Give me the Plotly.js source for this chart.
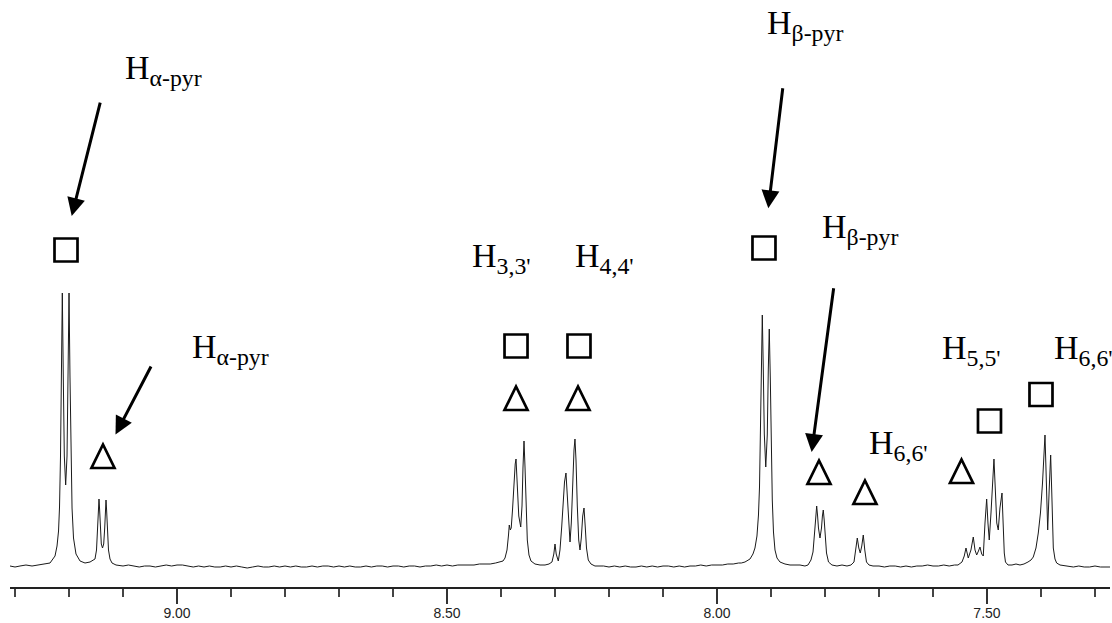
<!DOCTYPE html>
<html>
<head>
<meta charset="utf-8">
<script src="https://cdn.plot.ly/plotly-3.0.1.min.js"></script>
<style>html,body{margin:0;padding:0;background:#fff;}#chart{width:1112px;height:623px;}</style>
</head>
<body>
<div id="chart"></div>
<script>
// ---- Spectrum data (chemical shift in ppm, intensity in arbitrary units) ----
// H-alpha pyrrole region
const alphaPpm = [9.3093,9.3000,9.2908,9.2797,9.2685,9.2574,9.2463,9.2352,9.2259,9.2222,9.2194,9.2176,9.2158,9.2143,9.2124,9.2106,9.2087,9.2062,9.2037,9.2019,9.2000,9.1982,9.1963,9.1944,9.1917,9.1871,9.1796,9.1704,9.1611,9.1519,9.1491,9.1469,9.1456,9.1445,9.1434,9.1421,9.1402,9.1380,9.1358,9.1339,9.1326,9.1315,9.1304,9.1291,9.1269,9.1241,9.1204,9.1130];
const alphaInt = [2,1,2,3,2,3,4,5,12,22,37,61,111,191,275,190,112,83,112,190,275,191,105,60,30,14,7,5,6,9,18,38,58,69,59,40,24,20,24,40,58,68,58,38,18,9,5,3];
// baseline 9.10 - 8.41
const base1Ppm = [9.10,9.09,9.08,9.07,9.06,9.05,9.04,9.03,9.02,9.01,9.00,8.99,8.98,8.97,8.96,8.95,8.94,8.93,8.92,8.91,8.90,8.89,8.88,8.87,8.86,8.85,8.84,8.83,8.82,8.81,8.80,8.79,8.78,8.77,8.76,8.75,8.74,8.73,8.72,8.71,8.70,8.69,8.68,8.67,8.66,8.65,8.64,8.63,8.62,8.61,8.60,8.59,8.58,8.57,8.56,8.55,8.54,8.53,8.52,8.51,8.50,8.49,8.48,8.47,8.46,8.45,8.44,8.43,8.42,8.41];
const base1Int = [2,3,2,1,2,2,1,2,3,2,3,3,2,1,2,1,2,1,1,2,1,2,1,0,1,2,1,1,2,1,2,1,2,1,1,2,1,2,2,1,2,1,2,1,1,2,1,2,2,1,2,2,1,2,2,1,2,2,3,2,3,2,3,3,3,3,4,4,4,5];
// H3,3' and H4,4'
const h34Ppm = [8.3963,8.3926,8.3889,8.3861,8.3847,8.3828,8.3811,8.3787,8.3760,8.3737,8.3722,8.3698,8.3671,8.3635,8.3611,8.3593,8.3574,8.3556,8.3537,8.3513,8.3482,8.3445,8.3371,8.3278,8.3185,8.3111,8.3056,8.3022,8.3000,8.2978,8.2939,8.2908,8.2876,8.2852,8.2824,8.2797,8.2772,8.2748,8.2722,8.2698,8.2671,8.2648,8.2630,8.2611,8.2587,8.2561,8.2537,8.2513,8.2487,8.2463,8.2441,8.2417,8.2384,8.2334,8.2260];
const h34Int = [7,10,18,33,43,38,40,58,85,104,109,85,52,41,62,100,127,102,58,28,13,7,4,3,3,4,6,14,24,14,7,18,41,62,86,95,72,40,26,45,90,118,129,108,62,28,18,30,52,60,42,20,8,4,2];
// baseline 8.22 - 7.955
const base2Ppm = [8.22,8.21,8.20,8.19,8.18,8.17,8.16,8.15,8.14,8.13,8.12,8.11,8.10,8.09,8.08,8.07,8.06,8.05,8.04,8.03,8.02,8.01,8.00,7.99,7.98,7.97,7.96,7.955];
const base2Int = [2,2,1,2,1,2,1,1,2,1,2,1,2,2,1,2,1,2,2,3,2,3,3,3,4,4,5,5];
// H-beta pyrrole region
const betaPpm = [7.9482,7.9389,7.9334,7.9297,7.9260,7.9232,7.9213,7.9195,7.9180,7.9161,7.9143,7.9124,7.9097,7.9069,7.9050,7.9032,7.9013,7.8995,7.8976,7.8954,7.8926,7.8889,7.8834,7.8741,7.8648,7.8556,7.8463,7.8371,7.8315,7.8260,7.8222,7.8189,7.8171,7.8154,7.8137,7.8121,7.8093,7.8065,7.8048,7.8032,7.8015,7.8000,7.7972,7.7935,7.7871,7.7778,7.7685,7.7593,7.7519,7.7463,7.7430,7.7402,7.7374,7.7347,7.7319,7.7291,7.7263,7.7232,7.7185,7.7111];
const betaInt = [6,9,14,20,32,53,81,133,200,253,200,134,101,133,199,239,190,115,68,36,18,10,6,4,3,3,3,2,3,8,16,38,54,62,52,40,30,40,52,58,48,35,15,6,3,2,3,2,3,6,17,30,20,15,22,33,18,6,3,2];
// baseline 7.70 - 7.56
const base3Ppm = [7.70,7.69,7.68,7.67,7.66,7.65,7.64,7.63,7.62,7.61,7.60,7.59,7.58,7.57,7.56];
const base3Int = [2,1,2,2,1,2,1,2,2,3,2,2,3,2,3];
// H5,5' and H6,6'
const h56Ppm = [7.5537,7.5463,7.5421,7.5389,7.5347,7.5297,7.5254,7.5222,7.5191,7.5158,7.5130,7.5098,7.5069,7.5037,7.5006,7.4982,7.4958,7.4926,7.4895,7.4871,7.4843,7.4819,7.4791,7.4760,7.4722,7.4700,7.4680,7.4658,7.4611,7.4537,7.4463,7.4389,7.4315,7.4241,7.4185,7.4143,7.4093,7.4050,7.4010,7.3972,7.3945,7.3926,7.3908,7.3876,7.3847,7.3821,7.3800,7.3772,7.3741,7.3710,7.3648,7.3556];
const h56Int = [3,6,12,20,10,18,31,18,13,17,21,14,12,45,69,45,28,55,95,109,75,45,38,60,75,40,15,6,3,3,4,3,4,6,8,11,20,35,55,85,118,133,100,38,80,113,75,20,9,5,3,2];
// baseline 7.35 - 7.272
const base4Ppm = [7.35,7.34,7.33,7.32,7.31,7.30,7.29,7.28,7.272];
const base4Int = [2,1,2,1,1,2,1,1,1];

// axis ticks
const majorTickVals = [9.0, 8.5, 8.0, 7.5];
const majorTickText = ['9.00', '8.50', '8.00', '7.50'];

// assignment labels, symbols and arrows (annotation positions in ppm / intensity)
const labelText = ['H<sub>α-pyr</sub>','H<sub>α-pyr</sub>','H<sub>3,3\'</sub>','H<sub>4,4\'</sub>','H<sub>β-pyr</sub>','H<sub>β-pyr</sub>','H<sub>6,6\'</sub>','H<sub>5,5\'</sub>','H<sub>6,6\'</sub>'];
const labelPpm  = [9.1000, 8.9759, 8.4574, 8.2667, 7.9111, 7.8093, 7.7222, 7.5871, 7.3796];
const labelInt  = [498, 219, 310, 310, 543, 339, 123, 218, 218];

const squarePpm = [9.2056, 8.3722, 8.2556, 7.9130, 7.4954, 7.4000];
const squareInt = [318, 222, 222, 320, 147, 173.5];
const trianglePpm = [9.1371, 8.3722, 8.2574, 7.8111, 7.7260, 7.5472];
const triangleInt = [111, 169, 169, 95, 75, 96];

const arrowTailPpm = [9.1376, 9.0426, 7.8760, 7.7815];
const arrowTailInt = [475.3, 207.3, 489.7, 289.7];
const arrowHeadPpm = [9.1950, 9.1139, 7.9050, 7.8247];
const arrowHeadInt = [352, 133.5, 359.7, 116];

const ppm = [].concat(alphaPpm, base1Ppm, h34Ppm, base2Ppm, betaPpm, base3Ppm, h56Ppm, base4Ppm);
const intensity = [].concat(alphaInt, base1Int, h34Int, base2Int, betaInt, base3Int, h56Int, base4Int);

const trace = {
  x: ppm, y: intensity, type: 'scatter', mode: 'lines',
  line: {color: '#1a1a1a', width: 1},
  hoverinfo: 'skip'
};

const annotations = [];
for (let i = 0; i < labelText.length; i++) {
  annotations.push({
    x: labelPpm[i], y: labelInt[i], xref: 'x', yref: 'y',
    text: labelText[i], showarrow: false, xanchor: 'left', yanchor: 'middle',
    font: {family: 'Liberation Serif, Times New Roman, serif', size: 34, color: '#000'}
  });
}
for (let i = 0; i < arrowTailPpm.length; i++) {
  annotations.push({
    x: arrowHeadPpm[i], y: arrowHeadInt[i], xref: 'x', yref: 'y',
    ax: arrowTailPpm[i], ay: arrowTailInt[i], axref: 'x', ayref: 'y',
    text: ' ', showarrow: true, arrowhead: 2, arrowsize: 1.2, arrowwidth: 3,
    arrowcolor: '#000', standoff: 0, startstandoff: 0
  });
}

const shapes = [];
for (let i = 0; i < squarePpm.length; i++) {
  shapes.push({
    type: 'rect', xref: 'x', yref: 'y', xsizemode: 'pixel', ysizemode: 'pixel',
    xanchor: squarePpm[i], yanchor: squareInt[i],
    x0: -11.5, x1: 11.5, y0: -11.5, y1: 11.5,
    line: {color: '#000', width: 2.7}, fillcolor: 'rgba(0,0,0,0)'
  });
}
for (let i = 0; i < trianglePpm.length; i++) {
  shapes.push({
    type: 'path', xref: 'x', yref: 'y', xsizemode: 'pixel', ysizemode: 'pixel',
    xanchor: trianglePpm[i], yanchor: triangleInt[i],
    path: 'M -11.5 -11 L 11.5 -11 L 0 12.5 Z',
    line: {color: '#000', width: 2.7}, fillcolor: 'rgba(0,0,0,0)'
  });
}

const layout = {
  width: 1112, height: 623,
  margin: {l: 10, r: 2, t: 0, b: 36, pad: 0},
  paper_bgcolor: '#fff', plot_bgcolor: '#fff',
  showlegend: false,
  xaxis: {
    range: [9.3093, 7.2722],
    showgrid: false, zeroline: false,
    showline: true, linecolor: '#222', linewidth: 2,
    ticks: 'outside', ticklen: 15, tickwidth: 1.5, tickcolor: '#333',
    tickmode: 'array', tickvals: majorTickVals, ticktext: majorTickText,
    ticklabelstandoff: -3,
    tickfont: {family: 'Liberation Sans, Arial, sans-serif', size: 14, color: '#222'},
    minor: {dtick: 0.1, tick0: 7.3, ticks: 'outside', ticklen: 8, tickwidth: 1.2, tickcolor: '#444', showgrid: false}
  },
  yaxis: {range: [-19, 568], visible: false, fixedrange: true},
  annotations: annotations,
  shapes: shapes
};

Plotly.newPlot('chart', [trace], layout, {displayModeBar: false, staticPlot: true});
</script>
</body>
</html>
